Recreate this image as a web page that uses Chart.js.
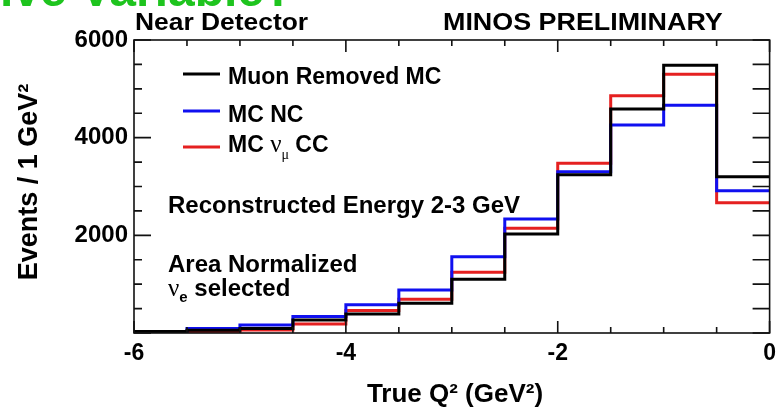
<!DOCTYPE html>
<html>
<head>
<meta charset="utf-8">
<script src="https://cdn.jsdelivr.net/npm/chart.js@4.4.1/dist/chart.umd.min.js"></script>
<style>
  html, body { margin: 0; padding: 0; background: #fff; }
  #wrap { width: 783px; height: 410px; position: relative; }
</style>
</head>
<body>
<div id="wrap"><canvas id="q2" width="783" height="410"></canvas></div>
<script>
// True Q^2 bins (GeV^2), 0.5 wide
var binEdges = [-6, -5.5, -5, -4.5, -4, -3.5, -3, -2.5, -2, -1.5, -1, -0.5, 0];

// events / 1 GeV^2, area normalized
var muonRemovedMC = [30, 55, 90, 266, 390, 608, 1100, 2027, 3240, 4587, 5482, 3201];
var mcNC          = [25, 90, 165, 338, 580, 881, 1560, 2335, 3300, 4260, 4663, 2914];
var mcNumuCC      = [20, 30, 60, 184, 460, 690, 1245, 2144, 3475, 4860, 5298, 2668];

var xTickLabels = [-6, -4, -2, 0];
var yTickLabels = [2000, 4000, 6000];
var yMinorStep = 500;

var FONT = '"Liberation Sans", Arial, Helvetica, sans-serif';
var SERIF = '"Liberation Serif", "DejaVu Serif", serif';

// step histogram: one point per left edge, plus the closing right edge
function histPoints(vals) {
  var pts = vals.map(function(v, i) { return { x: binEdges[i], y: v }; });
  pts.push({ x: binEdges[vals.length], y: vals[vals.length - 1] });
  return pts;
}

function histSet(label, vals, color) {
  return {
    label: label,
    data: histPoints(vals),
    borderColor: color,
    borderWidth: 3,
    pointRadius: 0,
    stepped: true,
    fill: false
  };
}

// draws a string with an optional horizontal stretch
function txt(ctx, s, x, y, size, o) {
  o = o || {};
  ctx.save();
  ctx.font = (o.weight || 'bold') + ' ' + size + 'px ' + (o.family || FONT);
  ctx.fillStyle = o.color || '#000';
  ctx.textAlign = o.align || 'left';
  ctx.textBaseline = 'alphabetic';
  ctx.translate(x, y);
  if (o.rotate) ctx.rotate(o.rotate);
  ctx.scale(o.sx || 1, 1);
  ctx.fillText(s, 0, 0);
  var w = ctx.measureText(s).width * (o.sx || 1);
  ctx.restore();
  return w;
}

var decorations = {
  id: 'decorations',
  afterDraw: function(chart) {
    var ctx = chart.ctx;
    var a = chart.chartArea;
    var xs = chart.scales.x, ys = chart.scales.y;

    // frame
    ctx.save();
    ctx.strokeStyle = '#111';
    ctx.lineWidth = 1.6;
    ctx.strokeRect(a.left, a.top, a.right - a.left, a.bottom - a.top);

    // inward ticks
    ctx.beginPath();
    binEdges.forEach(function(v) {
      var px = xs.getPixelForValue(v);
      var len = xTickLabels.indexOf(v) >= 0 ? 12 : 6;
      ctx.moveTo(px, a.bottom); ctx.lineTo(px, a.bottom - len);
      ctx.moveTo(px, a.top); ctx.lineTo(px, a.top + len);
    });
    for (var v = 0; v <= 6000; v += yMinorStep) {
      var py = ys.getPixelForValue(v);
      var len = v % 2000 === 0 ? 17 : 8;
      ctx.moveTo(a.left, py); ctx.lineTo(a.left + len, py);
      ctx.moveTo(a.right, py); ctx.lineTo(a.right - 17, py);
    }
    ctx.stroke();
    ctx.restore();

    // heading over the plot, partly cut by the page edge
    ctx.save();
    ctx.font = 'bold 48px ' + FONT;
    var pre = ctx.measureText('ive ').width;
    ctx.restore();
    txt(ctx, 'ive Variable?', 80 - pre, 6, 48, { color: '#1ec41e' });

    txt(ctx, 'Near Detector', 135, 30, 24, { sx: 1.1 });
    txt(ctx, 'MINOS PRELIMINARY', 443, 30, 24, { sx: 1.12 });

    // axis titles
    txt(ctx, 'Events / 1 GeV\u00b2', 37, 182, 27, { align: 'center', rotate: -Math.PI / 2 });
    txt(ctx, 'True Q\u00b2 (GeV\u00b2)', 455, 402, 26, { align: 'center' });

    // legend
    var entries = [
      { color: '#000', y: 74 },
      { color: '#1010f0', y: 111 },
      { color: '#e52020', y: 147 }
    ];
    entries.forEach(function(e) {
      ctx.save();
      ctx.strokeStyle = e.color;
      ctx.lineWidth = 3;
      ctx.beginPath();
      ctx.moveTo(183, e.y); ctx.lineTo(220, e.y);
      ctx.stroke();
      ctx.restore();
    });
    txt(ctx, 'Muon Removed MC', 228, 84, 23);
    txt(ctx, 'MC NC', 228, 122, 23);
    var w = txt(ctx, 'MC ', 228, 152, 23);
    var w2 = txt(ctx, '\u03bd', 228 + w, 152, 25, { weight: 'normal', family: SERIF });
    var w3 = txt(ctx, '\u03bc', 228 + w + w2, 159, 14, { weight: 'normal', family: SERIF });
    txt(ctx, ' CC', 228 + w + w2 + w3, 152, 23);

    // selection notes
    txt(ctx, 'Reconstructed Energy 2-3 GeV', 168, 213, 24);
    txt(ctx, 'Area Normalized', 168, 272, 24);
    var n = txt(ctx, '\u03bd', 168, 296, 25, { weight: 'normal', family: SERIF });
    var e = txt(ctx, 'e', 168 + n, 302, 15);
    txt(ctx, ' selected', 168 + n + e, 296, 24);
  }
};

new Chart(document.getElementById('q2'), {
  type: 'line',
  data: {
    datasets: [
      histSet('Muon Removed MC', muonRemovedMC, '#000'),
      histSet('MC NC', mcNC, '#1010f0'),
      histSet('MC \u03bd\u03bc CC', mcNumuCC, '#e52020')
    ]
  },
  options: {
    responsive: false,
    animation: false,
    devicePixelRatio: 1,
    layout: { padding: { top: 40, right: 8, left: 0, bottom: 0 } },
    plugins: { legend: { display: false }, tooltip: { enabled: false } },
    scales: {
      x: {
        type: 'linear',
        min: -6,
        max: 0,
        border: { display: false },
        grid: { display: false, drawTicks: false },
        afterBuildTicks: function(s) {
          s.ticks = binEdges.map(function(v) { return { value: v }; });
        },
        afterFit: function(s) { s.height = 77; },
        ticks: {
          autoSkip: false,
          maxRotation: 0,
          padding: 7,
          color: '#000',
          font: { family: FONT, size: 23, weight: 'bold' },
          callback: function(v) { return xTickLabels.indexOf(v) >= 0 ? String(v) : ''; }
        }
      },
      y: {
        min: 0,
        max: 6000,
        border: { display: false },
        grid: { display: false, drawTicks: false },
        afterBuildTicks: function(s) {
          var t = [];
          for (var v = 0; v <= 6000; v += yMinorStep) t.push({ value: v });
          s.ticks = t;
        },
        afterFit: function(s) { s.width = 134; },
        ticks: {
          autoSkip: false,
          padding: 6,
          color: '#000',
          font: { family: FONT, size: 24, weight: 'bold' },
          callback: function(v) { return yTickLabels.indexOf(v) >= 0 ? String(v) : ''; }
        }
      }
    }
  },
  plugins: [decorations]
});
</script>
</body>
</html>
